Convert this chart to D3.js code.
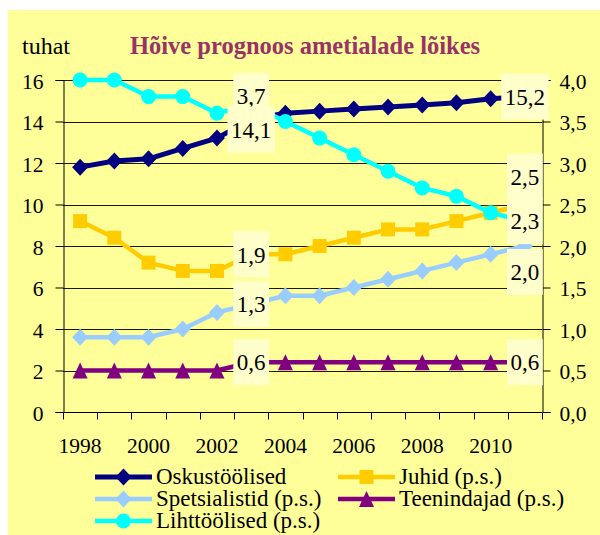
<!DOCTYPE html>
<html>
<head>
<meta charset="utf-8">
<script src="https://cdn.jsdelivr.net/npm/d3@7"></script>
<style>
  html, body { margin: 0; padding: 0; background: #ffffff; }
  svg { display: block; }
</style>
</head>
<body>
<script>
// ---------- data ----------
const years = ["1998","1999","2000","2001","2002","2003","2004","2005","2006","2007","2008","2009","2010","2011"];
const yearTickLabels = ["1998","2000","2002","2004","2006","2008","2010"];
const leftTicks = [0,2,4,6,8,10,12,14,16];
const rightTicks = [0,0.5,1,1.5,2,2.5,3,3.5,4];

const oskustoolised = [11.8,12.1,12.2,12.7,13.2,14.1,14.4,14.5,14.6,14.7,14.8,14.9,15.1,15.2];
const juhid         = [2.3,2.1,1.8,1.7,1.7,1.9,1.9,2.0,2.1,2.2,2.2,2.3,2.4,2.5];
const spetsialistid = [0.9,0.9,0.9,1.0,1.2,1.3,1.4,1.4,1.5,1.6,1.7,1.8,1.9,2.0];
const teenindajad   = [0.5,0.5,0.5,0.5,0.5,0.6,0.6,0.6,0.6,0.6,0.6,0.6,0.6,0.6];
const lihttoolised  = [4.0,4.0,3.8,3.8,3.6,3.7,3.5,3.3,3.1,2.9,2.7,2.6,2.4,2.3];

const seriesNames = ["Oskustöölised","Juhid (p.s.)","Spetsialistid (p.s.)","Teenindajad (p.s.)","Lihttöölised (p.s.)"];
const titleText = "Hõive prognoos ametialade lõikes";
const unitText = "tuhat";
const labelledYears = ["2003","2011"];

// ---------- styles ----------
const FONT = "Liberation Serif";
const series = [
  {name: seriesNames[0], values: oskustoolised, axis: "left",  color: "#000080", marker: "diamond",  lw: 5},
  {name: seriesNames[1], values: juhid,         axis: "right", color: "#FFCC00", marker: "square",   lw: 4.5},
  {name: seriesNames[2], values: spetsialistid, axis: "right", color: "#99CCFF", marker: "diamond",  lw: 4.5},
  {name: seriesNames[3], values: teenindajad,   axis: "right", color: "#800080", marker: "triangle", lw: 4.5},
  {name: seriesNames[4], values: lihttoolised,  axis: "right", color: "#00FFFF", marker: "circle",   lw: 4.5}
];
// label vertical offsets (px) per series & labelled year
const labelDy = {
  "Oskustöölised":        {"2003": 10, "2011": 0},
  "Juhid (p.s.)":         {"2003": 0,  "2011": -28},
  "Spetsialistid (p.s.)": {"2003": 0,  "2011": 26},
  "Teenindajad (p.s.)":   {"2003": 0,  "2011": 0},
  "Lihttöölised (p.s.)":  {"2003": -9, "2011": 0}
};
const labelOrder = ["Lihttöölised (p.s.)","Oskustöölised","Juhid (p.s.)","Spetsialistid (p.s.)","Teenindajad (p.s.)"];

const W = 600, H = 535;
const plot = {left: 63, right: 542, top: 80, bottom: 412};

const svg = d3.select("body").append("svg").attr("width", W).attr("height", H)
  .attr("font-family", FONT);

// background
svg.append("rect").attr("x", 8).attr("y", 10).attr("width", W - 8).attr("height", H - 10).attr("fill", "#FFFF99");

const x = d3.scaleBand().domain(years).range([plot.left, plot.right]).padding(0);
const yL = d3.scaleLinear().domain([0, 16]).range([plot.bottom, plot.top]);
const yR = d3.scaleLinear().domain([0, 4]).range([plot.bottom, plot.top]);
const cx = d => x(d) + x.bandwidth() / 2;

// gridlines
svg.append("g").selectAll("line").data(leftTicks).join("line")
  .attr("x1", plot.left).attr("x2", plot.right)
  .attr("y1", d => Math.round(yL(d)) + 0.5).attr("y2", d => Math.round(yL(d)) + 0.5)
  .attr("stroke", "#1a1a00").attr("stroke-width", 1);

// left axis
const gL = svg.append("g").attr("transform", `translate(${plot.left + 0.5},0)`)
  .call(d3.axisLeft(yL).tickValues(leftTicks).tickSize(8).tickPadding(12).tickFormat(d3.format("d")));
// right axis
const fmtComma = d => d3.format(".1f")(d).replace(".", ",");
const gR = svg.append("g").attr("transform", `translate(${plot.right + 0.5},0)`)
  .call(d3.axisRight(yR).tickValues(rightTicks).tickSize(8).tickPadding(9).tickFormat(fmtComma));
// bottom axis: ticks at band boundaries
const gB = svg.append("g").attr("transform", `translate(0,${plot.bottom + 0.5})`);
gB.append("line").attr("x1", plot.left).attr("x2", plot.right).attr("stroke", "#000");
gB.selectAll("line.tk").data(years.concat(["end"])).join("line").attr("class", "tk")
  .attr("x1", (d, i) => Math.round(plot.left + i * x.bandwidth()) + 0.5)
  .attr("x2", (d, i) => Math.round(plot.left + i * x.bandwidth()) + 0.5)
  .attr("y1", 0).attr("y2", 7).attr("stroke", "#000");
gB.selectAll("text").data(yearTickLabels).join("text")
  .attr("x", d => cx(d)).attr("y", 40).attr("text-anchor", "middle")
  .attr("font-family", FONT).attr("font-size", 21.5).attr("fill", "#000").text(d => d);

[gL, gR].forEach(g => {
  g.attr("font-family", FONT).attr("font-size", 21.5);
  g.select(".domain").attr("stroke", "#000");
  g.selectAll(".tick line").attr("stroke", "#000");
  g.selectAll(".tick text").attr("font-family", FONT).attr("font-size", 21.5).attr("fill", "#000").attr("dy", "0.38em");
});

// marker path
function markerPath(type, px, py) {
  const p = d3.path();
  if (type === "diamond") {
    const w = 8, h = 8.5;
    p.moveTo(px, py - h); p.lineTo(px + w, py); p.lineTo(px, py + h); p.lineTo(px - w, py); p.closePath();
  } else if (type === "square") {
    const s = 7;
    p.rect(px - s, py - s, 2 * s, 2 * s);
  } else if (type === "triangle") {
    const w = 7.5, h = 8;
    p.moveTo(px, py - h); p.lineTo(px + w, py + h); p.lineTo(px - w, py + h); p.closePath();
  } else {
    p.arc(px, py, 7.5, 0, 2 * Math.PI);
  }
  return p.toString();
}

// series lines & markers
const gS = svg.append("g");
series.forEach(s => {
  const ys = s.axis === "left" ? yL : yR;
  const line = d3.line().x((d, i) => cx(years[i])).y(d => ys(d));
  gS.append("path").datum(s.values).attr("d", line)
    .attr("fill", "none").attr("stroke", s.color).attr("stroke-width", s.lw).attr("stroke-linejoin", "round");
  gS.append("g").selectAll("path").data(s.values).join("path")
    .attr("d", (d, i) => markerPath(s.marker, cx(years[i]), ys(d)))
    .attr("fill", s.color);
});

// data labels
const gLab = svg.append("g");
labelOrder.forEach(nm => {
  const s = series.find(q => q.name === nm);
  const ys = s.axis === "left" ? yL : yR;
  labelledYears.forEach(yr => {
    const i = years.indexOf(yr);
    const v = s.values[i];
    const px = cx(yr), py = ys(v) + labelDy[nm][yr];
    const g = gLab.append("g");
    const rect = g.append("rect").attr("fill", "#FFFFCC");
    const t = g.append("text").attr("x", px).attr("y", py).attr("dy", "0.36em")
      .attr("text-anchor", "middle").attr("font-family", FONT).attr("font-size", 23).attr("fill", "#000")
      .text(fmtComma(v));
    const tw = t.node().getComputedTextLength();
    rect.attr("x", px - tw / 2 - 3.5).attr("y", py - 23).attr("width", tw + 7).attr("height", 46);
  });
});

// title and unit
svg.append("text").attr("x", 22).attr("y", 54).attr("font-family", FONT).attr("font-size", 24)
  .attr("fill", "#000").text(unitText);
svg.append("text").attr("x", 130).attr("y", 54).attr("font-family", FONT).attr("font-size", 24.5)
  .attr("font-weight", "bold").attr("fill", "#993366").text(titleText);

// legend
const legendPos = [
  {col: 0, row: 0}, {col: 1, row: 0}, {col: 0, row: 1}, {col: 1, row: 1}, {col: 0, row: 2}
];
const colX = [95, 338], rowY = [477, 499, 521];
const gLeg = svg.append("g");
series.forEach((s, k) => {
  const lx = colX[legendPos[k].col], ly = rowY[legendPos[k].row];
  gLeg.append("line").attr("x1", lx).attr("x2", lx + 57).attr("y1", ly).attr("y2", ly)
    .attr("stroke", s.color).attr("stroke-width", s.lw);
  gLeg.append("path").attr("d", markerPath(s.marker, lx + 28.5, ly)).attr("fill", s.color);
  gLeg.append("text").attr("x", lx + 61).attr("y", ly + 7).attr("font-family", FONT)
    .attr("font-size", 23).attr("fill", "#000").text(s.name);
});
</script>
</body>
</html>
